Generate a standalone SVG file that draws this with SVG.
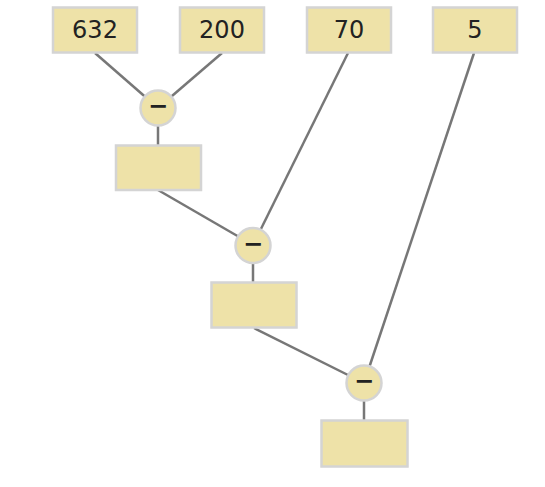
<svg xmlns="http://www.w3.org/2000/svg" width="545" height="487" viewBox="0 0 545 487">
<style>
.box{fill:#eee2a8;stroke:#d4d4d4;stroke-width:2.5}
.op{fill:#eee2a8;stroke:#d4d4d4;stroke-width:2.5}
.lbl{font-family:"DejaVu Sans",sans-serif;font-size:24px;fill:#222;text-anchor:middle;dominant-baseline:central}
.sym{font-family:"DejaVu Sans",sans-serif;font-size:24px;font-weight:bold;fill:#222;text-anchor:middle;dominant-baseline:central}
.edge{stroke:#777;stroke-width:2.5;fill:none}
</style>
<rect width="545" height="487" fill="#fff"/>
<g id="connectors">
<line class="edge" x1="95" y1="53" x2="158" y2="108"/>
<line class="edge" x1="222" y1="53" x2="158" y2="108"/>
<line class="edge" x1="158" y1="108" x2="158" y2="145"/>
<line class="edge" x1="348" y1="53" x2="253" y2="245"/>
<line class="edge" x1="158" y1="190" x2="253" y2="245"/>
<line class="edge" x1="253" y1="245" x2="253" y2="282"/>
<line class="edge" x1="474" y1="53" x2="364" y2="383"/>
<line class="edge" x1="254" y1="328" x2="364" y2="383"/>
<line class="edge" x1="364" y1="383" x2="364" y2="420"/>
</g>
<g id="n632"><rect class="box" x="53" y="7.5" width="84" height="45"/><text class="lbl" x="95" y="30">632</text></g>
<g id="n200"><rect class="box" x="180" y="7.5" width="84" height="45"/><text class="lbl" x="222" y="30">200</text></g>
<g id="n70"><rect class="box" x="307" y="7.5" width="84" height="45"/><text class="lbl" x="349" y="30">70</text></g>
<g id="n5"><rect class="box" x="433" y="7.5" width="84" height="45"/><text class="lbl" x="475" y="30">5</text></g>
<g id="op1"><circle class="op" cx="158" cy="108" r="17.5"/><text class="sym" x="158" y="106">−</text></g>
<g id="r1"><rect class="box" x="116" y="145.5" width="85" height="44.5"/></g>
<g id="op2"><circle class="op" cx="253" cy="245.5" r="17.5"/><text class="sym" x="253" y="243.5">−</text></g>
<g id="r2"><rect class="box" x="211.5" y="282.5" width="85" height="45"/></g>
<g id="op3"><circle class="op" cx="364" cy="383" r="17.5"/><text class="sym" x="364" y="381">−</text></g>
<g id="r3"><rect class="box" x="321.5" y="420.5" width="86" height="46"/></g>
</svg>
